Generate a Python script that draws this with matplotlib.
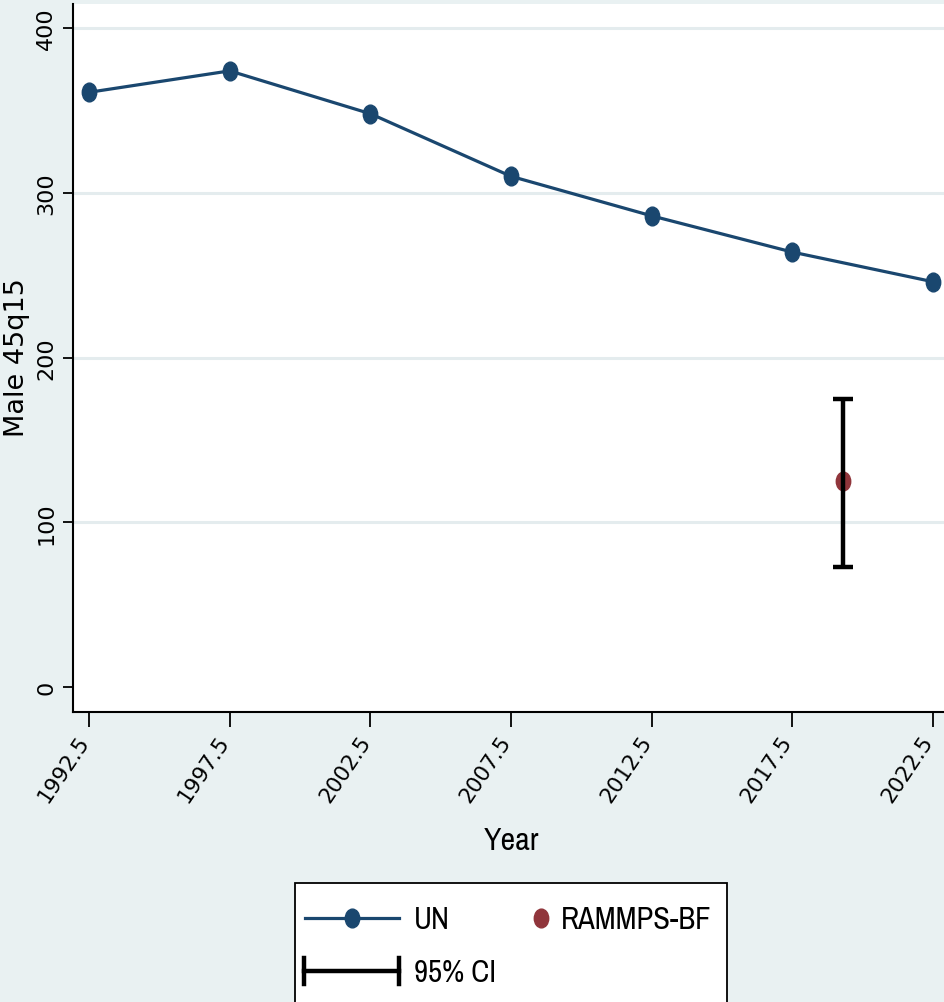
import numpy as np
import matplotlib
matplotlib.use("Agg")
import matplotlib.pyplot as plt
from matplotlib.path import Path
from matplotlib.lines import Line2D
from matplotlib.patches import Rectangle
from matplotlib.transforms import Affine2D, ScaledTranslation

# --- data ---
un_years = [1992.5, 1997.5, 2002.5, 2007.5, 2012.5, 2017.5, 2022.5]
un_45q15 = [361, 374, 348, 310, 286, 264, 246]
rammps_year = [2019.3]
rammps_45q15 = [125]
rammps_lo = [73]
rammps_hi = [175]
y_ticks = [0, 100, 200, 300, 400]
x_ticks = un_years

NAVY = "#1A476F"
MAROON = "#90353B"
BG = "#E9F1F2"
GRID = "#E4ECEE"
NARROW = ["Archivo Narrow", "Liberation Sans"]

W, H = 945, 1003
fig = plt.figure(figsize=(W / 100, H / 100), dpi=100, facecolor=BG)


def fx(x):
    return x / W


def fy(y):
    return 1 - y / H


# slightly tall elliptical marker
ellipse = Path(Affine2D().scale(1.0, 1.3).transform(Path.unit_circle().vertices),
               Path.unit_circle().codes)

left, right, top, bottom = 73, 949, 5, 713
ax = fig.add_axes([fx(left), fy(bottom), fx(right - left), (bottom - top) / H])
ax.set_facecolor("white")
ax.set_xlim(1991.93, 2023.07)
ax.set_ylim(-15.2, 414.6)

for v in y_ticks[1:]:
    ax.axhline(v, color=GRID, lw=2.2, zorder=0)

ax.plot(un_years, un_45q15, color=NAVY, lw=2.3, marker=ellipse, ms=13.5,
        mfc=NAVY, mec=NAVY, zorder=3, solid_capstyle="round")
ax.plot(rammps_year, rammps_45q15, ls="none", marker=ellipse, ms=13.5,
        mfc=MAROON, mec=MAROON, zorder=3)
yerr = np.array([[rammps_45q15[0] - rammps_lo[0]], [rammps_hi[0] - rammps_45q15[0]]])
ax.errorbar(rammps_year, rammps_45q15, yerr=yerr, fmt="none", ecolor="black",
            elinewidth=3.2, capsize=7.5, capthick=3.2, zorder=4)

for s in ["top", "right"]:
    ax.spines[s].set_visible(False)
for s in ["left", "bottom"]:
    ax.spines[s].set_linewidth(1.5)
    ax.spines[s].set_color("black")

ax.set_yticks(y_ticks)
ax.set_yticklabels([str(v) for v in y_ticks], rotation=90, va="center",
                   fontsize=16, family="DejaVu Sans")
ax.tick_params(axis="y", length=7.5, width=1.3, pad=4.5)

ax.set_xticks(x_ticks)
ax.set_xticklabels([f"{v:.1f}" for v in x_ticks], rotation=56, ha="right",
                   fontsize=15.5, family="DejaVu Sans")
ax.tick_params(axis="x", length=11, width=1.3, pad=3)
offset = ScaledTranslation(4 / 100, 0, fig.dpi_scale_trans)
for lab in ax.get_xticklabels():
    lab.set_transform(lab.get_transform() + offset)

ax.set_ylabel("Male 45q15", fontsize=19.5, family="DejaVu Sans", va="center")
ax.yaxis.set_label_coords(fx(17), fy(358), transform=fig.transFigure)
ax.set_xlabel("Year", fontsize=23, family=NARROW, va="center")
ax.xaxis.set_label_coords(fx(511), fy(841), transform=fig.transFigure)

# --- legend ---
fig.add_artist(Rectangle((fx(295), fy(1010)), fx(727 - 295), (1010 - 884) / H,
                         transform=fig.transFigure, facecolor="white",
                         edgecolor="black", lw=1.3, zorder=5))
legfont = dict(fontsize=22, family=NARROW,
               va="center", ha="left", transform=fig.transFigure, zorder=6)

fig.add_artist(Line2D([fx(305), fx(399)], [fy(919), fy(919)], color=NAVY, lw=2.3,
                      transform=fig.transFigure, zorder=6))
fig.add_artist(Line2D([fx(352)], [fy(919)], ls="none", marker=ellipse, ms=13.5,
                      mfc=NAVY, mec=NAVY, transform=fig.transFigure, zorder=7))
fig.text(fx(414), fy(920), "UN", **legfont)

fig.add_artist(Line2D([fx(541)], [fy(919)], ls="none", marker=ellipse, ms=13.5,
                      mfc=MAROON, mec=MAROON, transform=fig.transFigure, zorder=7))
fig.text(fx(561), fy(920), "RAMMPS-BF", **legfont)

fig.add_artist(Line2D([fx(304), fx(399)], [fy(972), fy(972)], color="black", lw=3.2,
                      transform=fig.transFigure, zorder=6))
for xc in (304, 399):
    fig.add_artist(Line2D([fx(xc), fx(xc)], [fy(959), fy(985)], color="black", lw=3.2,
                          transform=fig.transFigure, zorder=6))
fig.text(fx(414), fy(973), "95% CI", **legfont)

fig.savefig("out.png", dpi=100, facecolor=BG)
